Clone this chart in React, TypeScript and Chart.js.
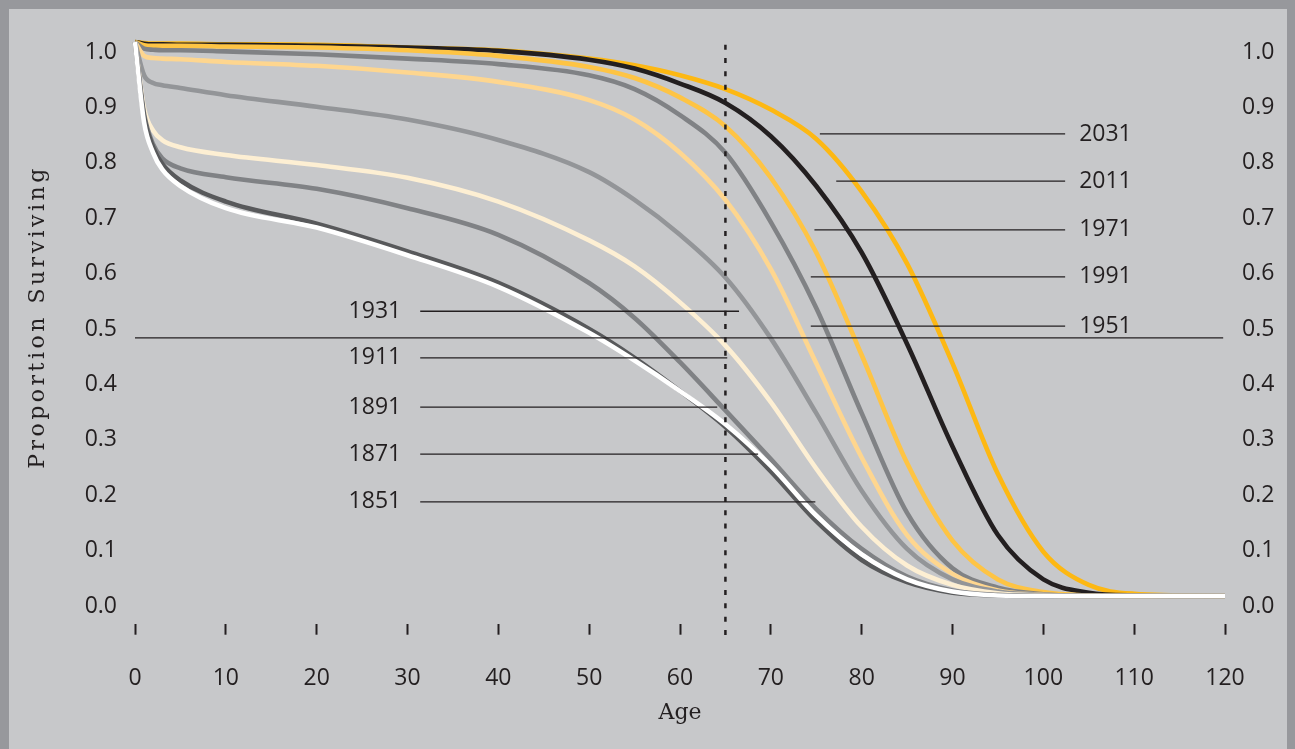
import React, { useEffect, useRef } from 'react';
import { Chart, registerables } from 'chart.js';

Chart.register(...registerables);

// ---- Data ----
const ages = [0, 1, 2, 3, 5, 10, 20, 30, 40, 50, 55, 60, 65, 70, 75, 80, 85, 90, 95, 100, 105, 110, 120];

const s2031 = [1, 0.998, 0.997, 0.997, 0.997, 0.996, 0.995, 0.99, 0.985, 0.97, 0.958, 0.94, 0.915, 0.878, 0.825, 0.73, 0.6, 0.42, 0.22, 0.08, 0.02, 0.004, 0];
const s2011 = [1, 0.997, 0.996, 0.996, 0.995, 0.995, 0.993, 0.99, 0.984, 0.968, 0.952, 0.925, 0.89, 0.83, 0.74, 0.62, 0.455, 0.27, 0.11, 0.03, 0.006, 0.001, 0];
const s1991 = [1, 0.994, 0.993, 0.993, 0.993, 0.992, 0.99, 0.985, 0.975, 0.955, 0.935, 0.9, 0.848, 0.755, 0.62, 0.435, 0.24, 0.1, 0.03, 0.007, 0.001, 0, 0];
const s1971 = [1, 0.988, 0.986, 0.985, 0.985, 0.983, 0.978, 0.97, 0.96, 0.94, 0.915, 0.868, 0.8, 0.675, 0.52, 0.33, 0.15, 0.05, 0.015, 0.003, 0, 0, 0];
const s1951 = [1, 0.975, 0.971, 0.97, 0.969, 0.964, 0.957, 0.945, 0.928, 0.895, 0.86, 0.8, 0.715, 0.59, 0.42, 0.25, 0.11, 0.04, 0.01, 0.002, 0, 0, 0];
const s1931 = [1, 0.94, 0.926, 0.922, 0.917, 0.904, 0.883, 0.86, 0.823, 0.765, 0.715, 0.652, 0.575, 0.465, 0.33, 0.19, 0.085, 0.03, 0.008, 0.002, 0, 0, 0];
const s1911 = [1, 0.88, 0.84, 0.823, 0.81, 0.796, 0.778, 0.755, 0.712, 0.642, 0.595, 0.53, 0.452, 0.35, 0.23, 0.125, 0.055, 0.02, 0.005, 0.001, 0, 0, 0];
const s1891 = [1, 0.87, 0.815, 0.79, 0.772, 0.756, 0.735, 0.7, 0.652, 0.565, 0.502, 0.422, 0.335, 0.247, 0.157, 0.085, 0.035, 0.01, 0.002, 0, 0, 0, 0];
const s1871 = [1, 0.865, 0.81, 0.78, 0.75, 0.712, 0.672, 0.622, 0.565, 0.482, 0.43, 0.37, 0.305, 0.225, 0.135, 0.065, 0.025, 0.006, 0.001, 0, 0, 0, 0];
const s1851 = [1, 0.855, 0.8, 0.77, 0.74, 0.7, 0.665, 0.615, 0.558, 0.475, 0.425, 0.37, 0.31, 0.235, 0.145, 0.075, 0.03, 0.008, 0.001, 0, 0, 0, 0];

// drawn in this order: first entry ends up on top
const seriesNames = ['1851', '1871', '1891', '1911', '1931', '1951', '1971', '1991', '2011', '2031'];
const seriesValues = [s1851, s1871, s1891, s1911, s1931, s1951, s1971, s1991, s2011, s2031];
const seriesColors = ['#ffffff', '#58595b', '#808285', '#fdefd3', '#939598', '#fed68f', '#808285', '#fec444', '#231f20', '#fdb813'];

const xTickValues = [0, 10, 20, 30, 40, 50, 60, 70, 80, 90, 100, 110, 120];
const yTickValues = [0, 0.1, 0.2, 0.3, 0.4, 0.5, 0.6, 0.7, 0.8, 0.9, 1.0];

// label callouts
const rightLabels = ['2031', '2011', '1971', '1991', '1951'];
const rightLabelY = [0.834, 0.749, 0.661, 0.576, 0.487];
const rightLineStart = [75.4, 77.2, 74.8, 74.4, 74.4];
const rightLineEnd = 102.4;

const leftLabels = ['1931', '1911', '1891', '1871', '1851'];
const leftLabelY = [0.514, 0.43, 0.341, 0.256, 0.17];
const leftLineStart = 31.4;
const leftLineEnd = [66.5, 65.2, 64.1, 68.6, 74.9];

const medianLineY = 0.466;
const medianLineX = [0, 119.8];

const retireAge = 65;
const retireRange = [0.995, -0.072];

const Y_TITLE = 'Proportion Surviving';

const TEXT = '#231f20';
const TICK_FONT = "'Open Sans', sans-serif";
const TITLE_FONT = "'DejaVu Serif', serif";

const calloutPlugin = {
  id: 'callouts',
  afterDatasetsDraw(chart: any) {
    const { ctx } = chart;
    const x = chart.scales.x;
    const y = chart.scales.y;
    ctx.save();
    ctx.strokeStyle = TEXT;
    ctx.lineWidth = 1.3;
    ctx.setLineDash([]);
    // long horizontal line
    ctx.beginPath();
    ctx.moveTo(x.getPixelForValue(medianLineX[0]), y.getPixelForValue(medianLineY));
    ctx.lineTo(x.getPixelForValue(medianLineX[1]), y.getPixelForValue(medianLineY));
    ctx.stroke();

    ctx.font = `23px ${TICK_FONT}`;
    ctx.fillStyle = TEXT;
    ctx.textBaseline = 'middle';
    // right callouts
    rightLabels.forEach((lab, i) => {
      const py = y.getPixelForValue(rightLabelY[i]);
      const x1 = x.getPixelForValue(rightLineStart[i]);
      const x2 = x.getPixelForValue(rightLineEnd);
      ctx.beginPath();
      ctx.moveTo(x1, py);
      ctx.lineTo(x2, py);
      ctx.stroke();
      ctx.textAlign = 'left';
      ctx.fillText(lab, x2 + 14, py);
    });
    // left callouts
    leftLabels.forEach((lab, i) => {
      const py = y.getPixelForValue(leftLabelY[i]);
      const x1 = x.getPixelForValue(leftLineStart);
      const x2 = x.getPixelForValue(leftLineEnd[i]);
      ctx.beginPath();
      ctx.moveTo(x1, py);
      ctx.lineTo(x2, py);
      ctx.stroke();
      ctx.textAlign = 'right';
      ctx.fillText(lab, x1 - 19, py);
    });
    // dotted retirement line
    ctx.lineWidth = 2.5;
    ctx.setLineDash([5, 8.3]);
    const rx = x.getPixelForValue(retireAge);
    ctx.beginPath();
    ctx.moveTo(rx, y.getPixelForValue(retireRange[0]));
    ctx.lineTo(rx, y.getPixelForValue(retireRange[1]));
    ctx.stroke();
    ctx.restore();

    // y axis title (letter-spaced, rotated)
    const cy = (chart.chartArea.top + chart.chartArea.bottom) / 2;
    ctx.save();
    ctx.translate(38, cy - 2);
    ctx.rotate(-Math.PI / 2);
    ctx.font = `22px ${TITLE_FONT}`;
    (ctx as any).letterSpacing = '3.5px';
    ctx.fillStyle = TEXT;
    ctx.textAlign = 'center';
    ctx.textBaseline = 'middle';
    ctx.fillText(Y_TITLE, 0, 0);
    ctx.restore();
  },
};

const W = 1295;
const H = 749;
const AREA_LEFT = 135;
const AREA_RIGHT = 1225;
const AREA_TOP = 14.3;
const AREA_BOTTOM = 623.7;

export default function App() {
  const ref = useRef<HTMLCanvasElement | null>(null);

  useEffect(() => {
    if (!ref.current) return;
    const datasets = seriesNames.map((name, i) => ({
      label: name,
      data: ages.map((a, j) => ({ x: a, y: seriesValues[i][j] })),
      borderColor: seriesColors[i],
      backgroundColor: seriesColors[i],
      borderWidth: 4.6,
      pointRadius: 0,
      fill: false,
      cubicInterpolationMode: 'monotone' as const,
      clip: false as any,
    }));

    const labelAxis = (pos: 'left' | 'right') => ({
      type: 'linear' as const,
      position: pos,
      min: -0.032,
      max: 1.068,
      afterBuildTicks: (s: any) => {
        s.ticks = yTickValues.map((v) => ({ value: v }));
      },
      afterFit: (s: any) => {
        s.width = pos === 'left' ? AREA_LEFT : W - AREA_RIGHT;
        s.paddingTop = 0;
        s.paddingBottom = 0;
      },
      grid: { display: false, drawTicks: false },
      border: { display: false },
      ticks: {
        padding: pos === 'left' ? 18 : 17,
        color: TEXT,
        font: { family: TICK_FONT, size: 23 },
        callback: (v: any) => Number(v).toFixed(1),
      },
      title: { display: false },
    });

    const chart = new Chart(ref.current, {
      type: 'line',
      data: { datasets },
      options: {
        animation: false,
        responsive: false,
        events: [],
        layout: { padding: { top: AREA_TOP, left: 0, right: 0, bottom: 0 } },
        plugins: { legend: { display: false }, tooltip: { enabled: false } },
        scales: {
          x: {
            type: 'linear',
            min: 0,
            max: 120,
            position: 'bottom',
            afterBuildTicks: (s: any) => {
              s.ticks = xTickValues.map((v) => ({ value: v }));
            },
            afterFit: (s: any) => {
              s.height = H - AREA_BOTTOM;
              s.paddingLeft = 0;
              s.paddingRight = 0;
            },
            grid: {
              display: true,
              drawOnChartArea: false,
              drawTicks: true,
              tickLength: 11,
              tickWidth: 2,
              tickColor: TEXT,
            },
            border: { display: false },
            ticks: {
              padding: 30,
              color: TEXT,
              maxRotation: 0,
              autoSkip: false,
              font: { family: TICK_FONT, size: 23 },
            },
            title: {
              display: true,
              text: 'Age',
              color: TEXT,
              font: { family: TITLE_FONT, size: 22 },
              padding: { top: 0, bottom: 23 },
            },
          },
          y: {
            type: 'linear',
            min: -0.05,
            max: 1.05,
            display: false,
            afterFit: (s: any) => {
              s.paddingTop = 0;
              s.paddingBottom = 0;
            },
          },
          yl: labelAxis('left') as any,
          yr: labelAxis('right') as any,
        },
      },
      plugins: [calloutPlugin],
    });
    return () => chart.destroy();
  }, []);

  return (
    <div style={{ position: 'absolute', left: 0, top: 0, width: W, height: H, background: '#97989c', overflow: 'hidden' }}>
      <div style={{ position: 'absolute', left: 9, top: 9, width: 1278, height: 740, background: '#c7c8ca' }} />
      <canvas ref={ref} width={W} height={H} style={{ position: 'absolute', left: 0, top: 0, width: W, height: H }} />
    </div>
  );
}
